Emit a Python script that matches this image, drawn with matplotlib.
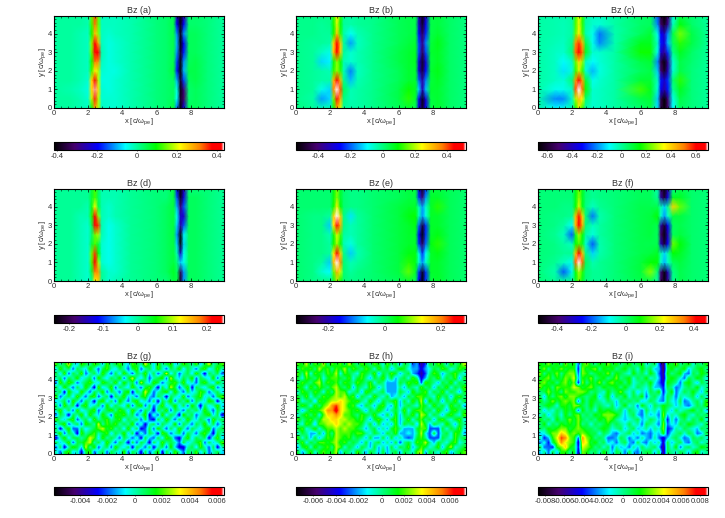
import matplotlib
matplotlib.use('Agg')
import matplotlib.pyplot as plt
import numpy as np
from matplotlib.colors import LinearSegmentedColormap, Normalize
from matplotlib.cm import ScalarMappable
from matplotlib.ticker import MultipleLocator

plt.rcParams['font.family'] = ['Liberation Sans', 'DejaVu Sans']
plt.rcParams['mathtext.fontset'] = 'custom'
plt.rcParams['mathtext.rm'] = 'Liberation Sans'
plt.rcParams['mathtext.it'] = 'Liberation Sans'

# grid nodes of the smooth panels (unit 0.01)
x_nodes = [0, 1, 1.5, 2, 2.2, 2.4, 2.6, 2.8, 3.2, 3.6, 4.5, 6, 6.6, 7, 7.2, 7.4, 7.6, 7.9, 8.3, 9, 9.95]
y_nodes = [0, 0.5, 1, 1.5, 2, 2.5, 3, 3.5, 4, 4.5, 4.95]

bz_a = [
    [0, 0, -1, -2, 8, 28, 18, -2, -3, -3, -1, 2, 3, 6, -14, -41, -22, 4, 4, 2, 0],
    [0, 0, -1, -3, 18, 36, 18, -3, -3, -3, -1, 2, 3, 4, -6, -38, -32, 3, 4, 2, 0],
    [0, -1, -2, -4, 24, 43, 24, -3, -4, -3, -1, 2, 3, 4, -4, -40, -30, 3, 4, 2, 0],
    [0, 0, -1, -3, 24, 38, 18, -4, -4, -3, -1, 2, 3, 4, -10, -38, -16, 4, 5, 2, 0],
    [0, 0, -1, -2, 12, 22, 18, -3, -4, -4, -1, 2, 3, 6, -18, -41, -10, 5, 5, 2, 0],
    [0, 0, -1, -2, 10, 32, 30, -2, -4, -3, -1, 2, 3, 5, -16, -41, -12, 4, 5, 2, 0],
    [0, 0, -1, -2, 14, 40, 38, -1, -4, -3, -1, 2, 3, 5, -12, -38, -18, 4, 4, 2, 0],
    [0, 0, -1, -2, 16, 40, 28, -2, -4, -3, -1, 2, 3, 5, -10, -42, -20, 4, 4, 2, 0],
    [0, 0, -1, -2, 10, 26, 16, -2, -3, -2, -1, 2, 3, 5, -12, -40, -12, 4, 4, 2, 0],
    [0, 0, 0, -1, 12, 32, 14, -2, -2, -2, -1, 2, 3, 5, -20, -40, -20, 3, 3, 2, 0],
    [0, 0, 0, -1, 14, 34, 14, -2, -2, -2, -1, 2, 3, 5, -26, -41, -26, 3, 3, 2, 0],
]
bz_b = [
    [0, -2, -4, -4, 8, 32, 22, -2, -3, -3, -1, 3, 6, 3, -30, -50, -28, 4, 6, 2, 0],
    [-1, -3, -16, -12, 16, 44, 32, 0, -4, -3, -1, 4, 12, 6, -28, -52, -30, 5, 6, 2, 0],
    [-1, -2, -8, -12, 36, 54, 40, 3, -4, -3, -1, 4, 10, 7, -12, -34, -14, 6, 6, 2, 0],
    [-1, -2, -3, -3, 32, 46, 32, -1, -14, -4, -1, 3, 6, 6, -20, -36, -18, 5, 7, 2, 0],
    [-1, -2, -3, -4, 12, 18, 12, -4, -18, -5, -1, 3, 6, 6, -30, -48, -26, 6, 8, 2, 0],
    [-1, -2, -12, -10, 8, 18, 10, -4, -6, -4, -1, 4, 6, 7, -30, -50, -30, 5, 7, 2, 0],
    [-1, -2, -5, -8, 30, 48, 30, -2, -6, -4, -1, 4, 6, 7, -22, -44, -22, 6, 7, 2, 0],
    [-1, -2, -2, -3, 28, 48, 30, -2, -16, -5, -1, 3, 5, 6, -22, -38, -18, 5, 8, 2, 0],
    [-1, -1, -2, -2, 10, 30, 12, -3, -9, -4, -1, 3, 4, 5, -26, -44, -24, 4, 6, 2, 0],
    [-1, -1, -2, -1, 10, 22, 10, -2, -3, -2, -1, 3, 4, 4, -32, -50, -28, 4, 5, 2, 0],
    [-1, -1, -1, -1, 12, 26, 12, -2, -3, -2, -1, 3, 4, 4, -34, -52, -32, 4, 5, 2, 0],
]
bz_c = [
    [-1, -10, -8, -2, 16, 32, 18, -1, -5, -4, -1, 5, 8, -12, -56, -66, -52, -10, 6, 3, 0],
    [-1, -20, -20, -4, 28, 42, 34, 4, -5, -4, -1, 8, 10, -14, -56, -68, -50, -8, 8, 3, 0],
    [-1, -8, -8, -4, 54, 70, 52, 16, -5, -4, -1, 20, 12, -6, -34, -44, -30, 0, 12, 3, 0],
    [-1, -4, -6, 4, 48, 64, 46, 10, -8, -5, -1, 10, 10, -4, -30, -38, -28, 4, 18, 3, 0],
    [-1, -4, -12, -6, 18, 30, 18, -6, -16, -7, -1, 6, 8, -14, -50, -62, -42, -6, 8, 3, 0],
    [-1, -4, -10, -4, 22, 38, 26, -4, -10, -6, -1, 8, 10, -20, -56, -66, -46, -6, 8, 4, 0],
    [-1, -4, -5, 4, 52, 62, 52, 12, -5, -5, -1, 16, 16, -8, -38, -46, -28, 2, 12, 5, 0],
    [-1, -3, -4, 2, 48, 56, 44, 8, -8, -20, -2, 12, 12, -4, -30, -36, -16, 6, 18, 8, 0],
    [-1, -2, -3, -1, 22, 36, 20, -2, -8, -22, -2, 6, 10, -8, -32, -40, -20, 8, 24, 8, 0],
    [-1, -2, -3, -1, 20, 32, 18, -1, -5, -6, -1, 5, 6, -20, -52, -62, -46, -4, 14, 5, 0],
    [-1, -2, -2, -1, 20, 32, 18, -1, -4, -4, -1, 5, 6, -24, -58, -68, -52, -6, 8, 4, 0],
]
bz_d = [
    [0, 0, -1, -2, 0, 12, 14, 0, -2, -1, 0, 1, 1, 3, 3, -22, -7, 2, 2, 1, 0],
    [0, 0, -1, -2, 3, 18, 17, 0, -2, -2, 0, 1, 2, 4, 2, -20, -7, 2, 2, 1, 0],
    [0, 0, -1, -2, 7, 24, 10, -2, -3, -2, 0, 1, 2, 3, 1, -5, -3, 2, 2, 1, 0],
    [0, 0, -1, -2, 8, 20, 5, -2, -3, -2, 0, 1, 2, 3, -1, -14, -3, 2, 2, 1, 0],
    [0, 0, -1, -2, 3, 7, 3, -2, -3, -2, 0, 1, 2, 3, -5, -24, -5, 2, 2, 1, 0],
    [0, 0, -1, -2, 1, 8, 10, -1, -3, -2, 0, 1, 2, 3, -7, -24, -4, 2, 2, 1, 0],
    [0, 0, -1, -2, 2, 22, 20, -1, -3, -2, 0, 1, 2, 3, -5, -16, -9, 2, 2, 1, 0],
    [0, 0, -1, -1, 6, 24, 9, -1, -2, -1, 0, 1, 2, 3, -3, -14, -14, 2, 2, 1, 0],
    [0, 0, 0, -1, 4, 12, 3, -1, -2, -1, 0, 1, 2, 3, -6, -18, -9, 2, 2, 1, 0],
    [0, 0, 0, 0, 3, 7, 2, -1, -1, -1, 0, 1, 1, 3, -9, -23, -13, 2, 2, 1, 0],
    [0, 0, 0, 0, 3, 7, 2, -1, -1, -1, 0, 1, 1, 3, -13, -24, -15, 1, 1, 1, 0],
]
bz_e = [
    [0, -1, -1, -1, 3, 10, 5, 0, -1, -1, 0, 1, 3, 1, -16, -31, -14, 2, 3, 1, 0],
    [0, -1, -4, -6, 8, 18, 12, 0, -2, -1, 0, 2, 8, 3, -14, -30, -14, 3, 3, 1, 0],
    [0, -1, -2, -8, 17, 30, 20, 0, -3, -2, 0, 2, 6, 4, -4, -10, -4, 3, 3, 1, 0],
    [0, -1, -1, -2, 14, 28, 16, -1, -8, -3, 0, 2, 4, 4, -5, -14, -6, 3, 4, 1, 0],
    [0, -1, -1, -2, 5, 10, 5, -3, -5, -2, 0, 2, 3, 3, -14, -26, -12, 4, 6, 1, 0],
    [0, -1, -1, -3, 4, 12, 7, -2, -3, -2, 0, 2, 3, 3, -16, -31, -14, 3, 4, 1, 0],
    [0, -1, -1, -8, 14, 26, 18, -1, -3, -2, 0, 2, 3, 4, -12, -28, -14, 3, 3, 1, 0],
    [0, -1, -1, -2, 16, 29, 16, -1, -7, -2, 0, 2, 4, 5, -3, -10, -5, 3, 3, 1, 0],
    [0, 0, 0, 0, 5, 14, 5, 0, -1, -1, 0, 2, 3, 3, -3, -10, -4, 3, 6, 1, 0],
    [0, 0, 0, 0, 4, 9, 3, 0, -1, -1, 0, 1, 2, 2, -14, -24, -10, 3, 3, 1, 0],
    [0, 0, 0, 0, 4, 9, 3, 0, -1, -1, 0, 1, 2, 2, -18, -30, -14, 2, 2, 1, 0],
]
bz_f = [
    [0, -2, -3, -2, 5, 14, 6, 0, -2, -2, 0, 3, 3, -3, -40, -50, -36, -2, 3, 1, 0],
    [0, -4, -20, -8, 8, 18, 10, 0, -2, -2, 0, 4, 16, 0, -38, -50, -32, -1, 3, 1, 0],
    [0, -2, -5, -8, 36, 48, 36, 2, -4, -2, 0, 4, 8, 8, -6, -14, -6, 2, 4, 1, 0],
    [0, -1, -2, -2, 28, 42, 28, -1, -12, -4, 0, 3, 4, 6, -4, -12, -4, 8, 6, 1, 0],
    [0, -1, -3, -5, 8, 12, 6, -6, -20, -4, 0, 3, 3, 3, -32, -46, -26, 14, 8, 1, 0],
    [0, -2, -5, -20, 5, 18, 8, -3, -7, -3, 0, 3, 4, 2, -40, -50, -32, 2, 4, 1, 0],
    [0, -1, -3, -9, 28, 44, 30, 0, -5, -3, 0, 3, 4, 3, -34, -46, -26, 2, 3, 1, 0],
    [0, -1, -1, -2, 28, 40, 26, 0, -18, -4, 0, 3, 4, 8, -6, -16, -6, 4, 4, 1, 0],
    [0, 0, -1, -1, 8, 20, 7, -1, -5, -2, 0, 3, 3, 3, -4, -12, -2, 26, 14, 1, 0],
    [0, 0, 0, 0, 7, 16, 6, 0, -2, -1, 0, 2, 2, -2, -34, -46, -28, 6, 6, 1, 0],
    [0, 0, 0, 0, 7, 14, 6, 0, -2, -1, 0, 2, 2, -4, -40, -50, -34, -2, 3, 1, 0],
]

# noise panels, cells (unit 0.001), bottom row first
bz_g = [
    [0, -2, 1, 2, -1, 0, -3, 1, 2, -2, 0, 1, -2, 1, 0, -1, 2, -2, 1, 0, -3, 1, -2, 0, 2, -3, 1, -1, 2, 0, -2, 1, 0, 2, -1, 1, -2, 0, 1, -1],
    [-2, 1, -3, 0, 2, 1, -1, 3, 0, 2, -2, 0, 1, -2, 2, 0, -1, 1, -3, 1, 0, -2, 1, -3, 0, 1, -2, 2, -1, -3, -3, 0, 1, -1, 2, 0, -2, 1, -3, 0],
    [1, -1, 0, 2, -2, 1, 1, 2, 3, 0, 1, -1, 2, 0, -2, 1, 0, -3, 1, -2, 1, 0, -3, 1, -1, 2, 0, 1, 0, -2, 1, -1, 0, 1, 2, -2, 1, -1, 0, 2],
    [-3, 0, 2, -1, 1, 1, 0, 1, 3, 2, -1, 2, 0, 1, 0, -2, 1, 0, -2, 0, -3, 1, -1, -2, 1, -1, 2, 1, -2, -3, 0, 2, -1, 1, 0, 1, -3, 0, 2, -1],
    [0, 2, -2, 1, 0, -3, 2, 0, 1, 2, 0, 1, 2, -1, 1, 0, 2, -1, 1, -3, 0, -2, 1, 0, -3, 2, 1, -2, 0, 1, -2, 1, 0, -2, 1, 2, 0, -3, 1, 0],
    [1, -3, 0, 2, -2, -2, 1, -1, 0, 1, 2, 3, 1, 2, 0, 1, -1, 2, -1, 1, -3, -2, 1, -2, 2, 0, -2, 1, -1, 2, 0, -2, 1, 0, -1, 1, 2, -2, 0, 1],
    [-1, 1, 2, -2, 0, 1, -2, 2, 1, 0, 3, 0, 2, 1, 2, 0, 1, 0, 2, -2, 0, -3, 0, 1, -2, 1, 0, -1, 2, -2, 1, 0, -2, 1, 0, 2, -1, 1, -2, 0],
    [2, 0, -1, 1, 2, -2, 0, 1, -1, 2, 0, 1, 2, 0, 1, 2, -1, 1, 0, 1, -2, 1, -2, -3, 1, -1, 2, 0, -2, 1, -1, 2, 0, -1, 1, 0, -2, 2, 0, 1],
    [-2, 1, 0, -3, 1, 0, 2, -1, 2, 0, -1, 2, 0, -2, 2, 1, 2, 0, 1, -2, 0, 2, -3, 0, -2, 2, -1, 1, 0, -3, 2, 0, 1, -2, 0, 1, 2, -1, 1, -3],
    [0, 2, -1, 1, -2, 2, -1, 0, 1, 2, -2, 0, 1, 2, 0, 2, 1, -1, 2, 0, -2, 1, 0, -3, 1, 0, 2, -2, 1, 0, -2, 1, 0, 1, -1, 2, 0, -2, 1, 0],
    [1, -2, 2, 0, 1, -3, 1, 2, -1, 0, 1, -2, 2, -1, 1, 0, -1, 2, -2, 1, 2, -2, 1, -2, 0, 2, -1, 0, 2, -1, 1, -2, 2, 0, -3, 1, -1, 0, 2, -1],
    [-1, 0, 1, -2, 2, 0, -2, 1, 0, -3, 1, 2, -1, 1, -2, 2, 0, -2, 1, 2, -1, 0, -2, 1, -3, 1, 0, 2, -2, 1, 0, 2, -2, 1, 0, -1, 2, 1, -3, 0],
    [2, -2, 0, 1, -1, 2, 0, -2, 1, 2, -2, 0, 1, -3, 1, 0, 2, -1, 0, -2, 1, 2, -1, -2, 1, 0, -3, 1, 0, -1, 2, -2, 0, 1, 2, -1, 0, -2, 1, 2],
    [0, 1, -3, 2, 0, -1, 2, 0, -2, 1, 0, 2, -2, 1, 0, -2, 1, 2, -3, 1, 0, 3, 1, -2, 0, 1, 2, -1, 2, 0, -2, 1, -1, 0, 2, 1, -2, 0, 1, -1],
    [1, -1, 2, 0, -2, 1, -1, 2, 0, -3, 2, -1, 0, 2, -2, 1, 0, -1, 2, 0, -2, 1, 2, 0, -3, 1, -1, 3, 1, -2, 0, 2, -3, 1, 0, -1, 1, 2, -2, 0],
    [-2, 2, 0, 2, 1, -2, 0, 1, 2, 0, -1, 2, 1, 0, 2, -1, 2, 0, 1, -2, 3, 0, -1, 2, 1, -2, 0, 1, 2, 0, 2, -1, 0, -2, 1, 2, 0, -1, 2, 0],
    [0, 1, -2, 1, 0, 2, -1, 0, 1, -2, 2, 0, -1, 1, 0, 2, -2, 1, 3, 0, -1, 1, -2, 0, 1, 2, -2, 3, 0, -1, 1, 0, 2, -2, 1, 0, -1, 2, -2, 1],
    [1, -1, 2, -2, 1, 0, 2, -2, 0, 1, -1, 2, 0, -2, 1, -1, 2, 0, -2, 1, 0, 2, -1, 1, -2, 0, 3, -1, 1, -2, 0, 1, -1, 2, 0, -3, 1, 0, 1, -2],
    [-1, 2, 0, 1, -2, 1, 0, -1, 2, 0, -2, 1, 2, 0, -1, 1, 0, -2, 1, 2, -2, 0, 1, -1, 2, 0, -2, 1, 0, 2, -1, 1, 0, -2, 1, 2, -1, 0, 2, 0],
    [2, 0, 1, 3, 0, -1, 2, 1, 0, 2, 1, -1, 2, 0, 1, 2, 0, -1, 2, 1, 0, 3, 1, -1, 2, 0, 1, 2, -1, 0, 2, 1, 0, 2, -1, 1, 3, 0, 1, 2],
]
bz_h = [
    [1, -2, 0, 2, -1, 1, 2, 1, 1, 3, -2, 1, 0, -1, 2, 0, -2, 1, 0, -2, 1, -2, 0, 1, -2, 1, 0, -1, 2, 3, -2, 1, 0, -1, 1, 2, -2, 0, 1, 2],
    [-2, 1, 2, -1, 2, 0, 1, 2, 0, 3, 2, -1, 1, 0, -2, 1, 0, -2, 1, -2, 0, -2, 1, -2, 1, 0, 2, -2, 0, 2, 1, -1, 0, 2, -2, 1, 3, -1, 0, 1],
    [0, 2, -1, 1, 0, 2, 2, 1, 2, 3, 1, 2, 0, 1, 0, -2, 1, -2, 0, 1, -2, 0, -2, 1, -3, 0, 1, -1, 2, 1, 3, 0, -2, 1, 0, -1, 1, 2, -1, 0],
    [2, -1, 1, -2, 1, -2, 0, 2, 1, 3, 2, 1, 2, 0, 1, 0, -2, 1, -2, -2, 1, -2, 1, -2, 0, -2, -3, -2, 1, 2, 0, -3, -3, -3, 1, 0, -1, 2, 0, 1],
    [-1, 1, 0, -2, -2, 1, -2, 2, 0, 3, 2, 2, 2, 1, 2, 2, 0, -1, 1, 0, -2, 1, 0, 2, -2, -2, -1, -2, 0, 3, -1, -3, 1, -3, 0, 1, -1, 2, 1, -2],
    [1, 2, -1, 0, 2, -1, 1, 2, 2, 3, 2, 3, 2, 2, 1, 0, -2, 0, 1, -2, 0, -2, 1, 2, 0, -2, -2, -2, 1, 2, 2, -3, -3, -3, 1, -1, 1, 0, 2, -1],
    [0, -1, 2, 1, -2, 2, 2, 3, 3, 4, 3, 2, 3, 2, 2, 1, -1, 1, -2, 1, -2, 0, -2, 2, -2, 1, 0, 1, -2, 3, 1, -2, 1, 0, -1, 2, 0, -2, 1, 0],
    [2, 0, 1, 2, 0, 1, 3, 3, 4, 4, 3, 3, 2, 2, 1, 2, 0, -2, 1, 2, 0, -2, 1, 2, -2, 0, 2, -1, 1, 2, 0, 1, -2, 1, 2, 0, -1, 1, 2, -1],
    [-1, 1, 2, 0, 2, -1, 2, 4, 4, 5, 4, 2, 2, 1, 0, 2, 1, 0, 2, -1, -2, 1, -2, 2, -2, 1, 0, 2, -1, 3, 2, -1, 1, 0, -2, 1, 2, 0, -1, 2],
    [1, -2, 0, 2, 1, 2, 3, 5, 5, 7, 4, 3, 2, 1, 2, 0, -2, 1, 0, 2, 0, -2, 0, 1, -1, 2, -1, 1, 2, 2, 0, 1, -1, 2, 0, -2, 1, 2, 0, 1],
    [0, 2, 1, -1, 2, 0, 2, 3, 5, 6, 4, 3, 1, 2, -1, -2, 1, 0, -2, 1, 2, -1, -2, 2, -2, 0, 1, 0, -1, 2, 1, -1, 2, 0, 1, -1, 2, 0, 1, -2],
    [2, -1, 0, 1, -2, 2, 1, 2, 3, 3, 4, 3, 2, 1, 2, 0, -1, 2, 0, -2, 1, 0, 1, 2, -2, 1, -1, 2, 0, 3, -2, 2, 0, 1, -2, 1, 0, 2, -1, 1],
    [1, 0, 2, -1, 1, 0, 2, 1, 2, 3, 2, 3, 1, 2, -2, 1, 0, -1, 2, 0, -1, 1, -2, -1, 0, -2, 1, 0, 2, 2, 1, 0, -1, 2, 0, 1, -2, 1, 2, 0],
    [-1, 2, 1, 0, 2, 1, -1, 2, 0, 3, 2, 2, -1, 0, 1, -2, 2, 1, -1, 0, 1, -2, -2, -2, 1, 0, -2, 2, 0, 1, 2, -1, 1, 0, 2, -1, 1, 0, -2, 1],
    [2, 1, -1, 2, 0, 2, 1, 0, 2, 3, 1, 0, 2, -2, 1, 0, -1, 2, 1, -2, 0, -2, -2, -2, 0, -2, 1, 0, -1, 2, 0, 1, -2, 1, 0, 2, -1, 1, 0, 2],
    [0, 2, 1, 0, 2, 3, 0, 2, 1, 2, 0, 2, 1, 0, 2, 1, 0, 2, -1, 1, 0, -2, -2, -2, 1, 0, 2, 1, 2, -3, 2, 1, 0, -2, 1, 0, 2, -1, 1, 0],
    [1, -1, 2, 1, 0, 2, -1, 1, 2, 2, 1, 0, 2, -1, 1, 2, 0, -2, 1, 0, 2, -1, 1, -2, 0, 1, -1, 2, 0, -4, -2, 1, 0, 2, -1, 1, 0, 2, -2, 1],
    [2, 0, 3, -1, 2, 1, 0, 2, 1, 3, -1, 2, 1, 0, -1, 2, 1, 0, 2, -2, 1, 0, 2, 1, -2, 0, 1, -2, -3, -5, -3, 0, 2, 1, -2, 0, 1, 2, 0, -1],
    [0, 2, 1, 2, 0, 3, 1, 2, 0, 2, 1, 3, 0, 2, 1, 0, 2, 1, -1, 2, 0, 1, -2, 0, 2, 1, -1, -2, -2, -4, -2, -1, 1, 0, 2, 1, -1, 0, 2, 1],
    [2, 1, 3, 0, 2, 1, 3, 0, 2, 1, 2, 0, 3, 1, 0, 2, 1, 0, 2, 1, -1, 2, 0, 1, -2, 1, 0, -3, -2, -5, -3, 1, 0, 2, 1, -1, 2, 0, 1, 3],
]
bz_i = [
    [-2, 0, -3, 1, -2, 2, 2, 0, 2, -5, 3, 2, 0, 1, -1, 2, 0, -2, 1, 0, -3, 1, -2, -3, 0, 1, 1, -2, 1, -6, 1, 0, -1, 1, 0, -2, 1, 2, -1, 0],
    [1, -3, -3, -4, 2, 3, 5, 2, 1, -4, 4, 3, 2, 0, 1, -1, 1, -3, 0, -2, -1, -3, 0, -2, 1, -1, 0, 1, -2, -6, 1, -1, 2, -3, 0, 1, -1, 0, 2, 1],
    [-3, -1, -4, 1, 3, 6, 4, 3, 2, -5, 5, 4, 1, 2, 0, 1, -2, -1, -3, 0, 1, -2, -3, 1, -2, -3, 0, -2, 0, -5, 1, -2, 0, 1, -2, -3, 0, 1, -1, 0],
    [0, -4, -2, 2, 4, 7, 6, 3, 2, -3, 6, 3, 2, 0, 1, 0, -3, -3, -2, 1, 0, -3, -1, -3, 0, -2, -3, 0, -3, -5, -2, 0, 1, -1, -3, -2, 1, 0, 1, -1],
    [-2, -1, 1, 3, 3, 5, 4, 2, 3, 2, 3, 2, 1, 1, -1, 1, 0, -2, -3, -1, 0, 1, -2, 0, -3, -2, -3, -1, -2, 2, -4, -1, 0, 1, -1, 1, 0, -3, -2, 1],
    [1, 0, 2, 1, 2, 3, 3, 1, 2, 3, 2, 1, 1, 0, 1, 2, 1, -1, 0, 1, -2, 0, 1, -2, -1, 0, -2, 0, -1, 3, -4, -3, 0, -1, 1, 0, -1, -2, 1, 0],
    [0, 2, -1, 1, 0, 2, 1, 2, 1, 3, 0, 1, -1, 1, 0, 1, 2, 0, 1, 0, -1, 1, -1, 0, -3, 1, 0, -1, -3, 3, -3, -1, -2, 1, 0, 2, 1, 0, -1, 1],
    [2, 0, 1, -1, 2, 0, 1, 3, 1, 3, 1, 0, 1, 0, 2, 1, 3, 2, 0, -1, -2, -1, 0, 1, -2, -1, 1, 0, -2, 2, -4, 0, -3, 0, 1, -1, 1, 0, 2, -1],
    [-1, 1, -2, 0, 1, -1, 2, 0, 2, 3, 0, 1, 0, 2, 1, 3, 3, 3, 2, 0, -2, 0, 1, -2, -3, 0, -2, -1, -3, 3, -2, 0, -1, 1, 2, 0, -1, 1, 0, 1],
    [1, -2, 0, -1, 1, 0, 2, 1, 2, -3, 2, 0, 1, -1, 2, 1, 2, 1, 0, 1, -2, 1, 0, -1, -3, 1, -1, 0, -2, 2, 0, -2, 1, -1, 0, 1, 2, 0, 1, -2],
    [0, 1, 2, 1, -1, 2, 2, 1, 3, 3, 1, 0, 2, 0, 1, 0, -1, 1, -2, 0, 2, -1, 0, -3, 2, 0, -2, 1, 0, 2, 1, 0, -2, 0, -2, -3, -1, 1, 0, 2],
    [2, 0, 1, 3, 1, 2, 3, 2, 3, -3, 2, 0, 2, 1, 0, -1, 1, 0, -2, 1, 0, 1, 0, 1, -2, -1, 1, 0, -2, -3, 1, -1, -2, 1, -3, -2, 0, 1, -1, 2],
    [1, -2, 2, 0, 2, 3, 1, 3, 3, 2, 1, 0, 1, 2, -2, 0, 2, -2, 1, 0, 2, -1, 1, 0, 2, -3, 0, 1, -1, -3, 1, 0, -3, 0, -1, 0, 1, -2, 1, -1],
    [0, 1, 3, 1, 2, 0, 3, 2, 2, 3, 3, 2, 0, 1, 0, -1, 2, 0, 1, 3, 0, -1, 1, -2, 0, -2, 1, 0, 2, -4, 0, 2, -3, -1, 1, 0, 2, 0, -2, 1],
    [3, 1, 2, 0, 3, 2, 2, 2, 4, 3, 1, 2, 3, 1, 0, 2, 1, 1, 2, 0, 2, 0, -1, 1, 0, -1, 1, -2, -2, -4, 1, 0, -3, -2, 0, 1, 0, 2, -1, 0],
    [2, 3, 1, 2, 0, 2, 3, 1, 3, -4, 3, 0, 2, 1, 3, 0, 2, 3, 1, 2, 0, 2, -1, 0, 1, 0, 2, -1, -3, -5, 2, 1, 0, -3, 1, 2, 0, -2, 1, 0],
    [1, 2, 3, 0, 2, 1, 3, 2, 4, -2, 2, 1, 3, 0, 1, 2, 0, 1, 3, 0, 1, 2, -1, 1, 0, 2, -1, 0, -2, -6, 1, 2, 1, -1, -3, 1, 0, 2, 1, -1],
    [3, 0, 2, 1, 3, 0, 2, 3, 3, -3, 3, 2, 0, 1, 2, 1, 3, 0, 2, 1, 0, -1, 2, 0, 1, -1, 2, 0, -3, -6, 2, 0, 1, 2, -2, -3, 1, 0, 2, 1],
    [1, 3, 0, 2, 1, 3, 1, 2, 2, -4, 3, 1, 2, 3, 0, 2, 1, 2, 0, 1, 2, 0, 1, -1, 2, 0, 1, -2, -2, -7, 1, 2, 0, 1, 2, -2, 0, 1, 2, 0],
    [2, 1, 3, 1, 2, 0, 3, 1, 2, -3, 2, 3, 1, 0, 2, 1, 3, 1, 2, 0, 1, 2, 0, 1, 2, -1, 0, 1, -3, -7, 2, 1, 3, 0, 1, 2, -1, 1, 0, 2],
]

panel_letters = list('abcdefghi')
panel_data = [bz_a, bz_b, bz_c, bz_d, bz_e, bz_f, bz_g, bz_h, bz_i]
data_units = [0.01] * 6 + [0.001] * 3
value_min = [-0.416, -0.54, -0.675, -0.243, -0.315, -0.51, -0.0059, -0.0075, -0.0087]
value_max = [0.436, 0.52, 0.70, 0.249, 0.29, 0.48, 0.0065, 0.0074, 0.0088]
cbar_ticks = [
    [-0.4, -0.2, 0, 0.2, 0.4],
    [-0.4, -0.2, 0, 0.2, 0.4],
    [-0.6, -0.4, -0.2, 0, 0.2, 0.4, 0.6],
    [-0.2, -0.1, 0, 0.1, 0.2],
    [-0.2, 0, 0.2],
    [-0.4, -0.2, 0, 0.2, 0.4],
    [-0.004, -0.002, 0, 0.002, 0.004, 0.006],
    [-0.006, -0.004, -0.002, 0, 0.002, 0.004, 0.006],
    [-0.008, -0.006, -0.004, -0.002, 0, 0.002, 0.004, 0.006, 0.008],
]

x_max = 9.95
y_max = 4.95

# rainbow with black bottom and white top, like the IDL table
rainbow = LinearSegmentedColormap.from_list('rainbow_white', [
    (0.00, '#000000'), (0.12, '#45006e'), (0.26, '#0000ff'), (0.42, '#00ffff'),
    (0.50, '#00ff8c'), (0.60, '#00ff00'), (0.74, '#ffff00'), (0.86, '#ff8000'),
    (0.93, '#ff0000'), (0.985, '#ff0000'), (1.00, '#ffffff')], N=512)

W, H = 725, 518
lefts = [54, 296, 538]
tops = [16, 189, 362]
cbar_tops = [142, 315, 487]
ax_w, ax_h = 170, 92
text_col = '#333333'


def pixel_axes(fig, left, top, width, height):
    return fig.add_axes([left / W, 1 - (top + height) / H, width / W, height / H])


def tick_label(v):
    s = f'{v:g}' if abs(v) >= 0.01 or v == 0 else f'{v:.3f}'
    return s


fig = plt.figure(figsize=(W / 100, H / 100), dpi=100)

for i, letter in enumerate(panel_letters):
    row, col = divmod(i, 3)
    ax = pixel_axes(fig, lefts[col], tops[row], ax_w, ax_h)
    values = np.array(panel_data[i], dtype=float) * data_units[i]
    norm = Normalize(value_min[i], value_max[i])
    if i < 6:
        ax.pcolormesh(x_nodes, y_nodes, values, cmap=rainbow, norm=norm,
                      shading='gouraud', rasterized=True)
    else:
        ax.imshow(values, cmap=rainbow, norm=norm, origin='lower', aspect='auto',
                  extent=[0, x_max, 0, y_max], interpolation='bilinear')
    ax.set_xlim(0, x_max)
    ax.set_ylim(0, y_max)
    ax.xaxis.set_major_locator(MultipleLocator(2))
    ax.xaxis.set_minor_locator(MultipleLocator(0.4))
    ax.yaxis.set_major_locator(MultipleLocator(1))
    ax.yaxis.set_minor_locator(MultipleLocator(0.2))
    ax.tick_params(which='major', direction='in', top=True, right=True, length=2.5,
                   width=0.5, labelsize=5.5, pad=1.5, labelcolor=text_col)
    ax.tick_params(which='minor', direction='in', top=True, right=True, length=1.2, width=0.4)
    for sp in ax.spines.values():
        sp.set_linewidth(0.8)
    ax.set_xlabel(r'x [c/$\omega_{pe}$]', fontsize=5.5, labelpad=-0.5, color=text_col)
    ax.set_ylabel(r'y [c/$\omega_{pe}$]', fontsize=5.5, labelpad=-0.5, color=text_col)
    ax.set_title(f'Bz ({letter})', fontsize=6.5, pad=2.5, color=text_col)

    cax = pixel_axes(fig, lefts[col], cbar_tops[row], ax_w, 8)
    cb = fig.colorbar(ScalarMappable(norm=norm, cmap=rainbow), cax=cax, orientation='horizontal')
    cb.set_ticks(cbar_ticks[i])
    cb.set_ticklabels([tick_label(v) for v in cbar_ticks[i]])
    cb.ax.tick_params(length=1, width=0.4, labelsize=5.5, pad=1.5, labelcolor=text_col)
    cb.outline.set_linewidth(0.8)

fig.savefig('out.png', dpi=100)
